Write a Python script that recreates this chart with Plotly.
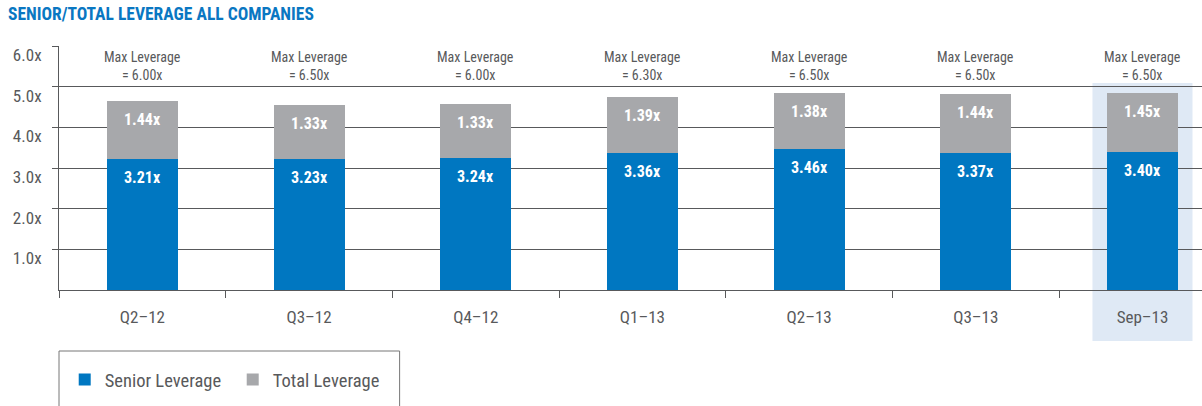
import plotly.graph_objects as go

# Data
periods = ["Q2–12", "Q3–12", "Q4–12", "Q1–13", "Q2–13", "Q3–13", "Sep–13"]
senior_leverage = [3.21, 3.23, 3.24, 3.36, 3.46, 3.37, 3.40]
total_leverage_add = [1.44, 1.33, 1.33, 1.39, 1.38, 1.44, 1.45]
max_leverage = [6.00, 6.50, 6.00, 6.30, 6.50, 6.50, 6.50]
y_ticks = [1, 2, 3, 4, 5, 6]

BLUE = "#0077c1"
GRAY = "#a7a8ab"
TEXT = "#58595b"
LINE = "#58595b"
FONT = "Liberation Sans Narrow, Roboto Condensed, Open Sans, sans-serif"

fig = go.Figure()

fig.add_trace(go.Bar(
    x=periods, y=senior_leverage, name="Senior Leverage",
    marker=dict(color=BLUE, line_width=0), width=0.426,
))
fig.add_trace(go.Bar(
    x=periods, y=total_leverage_add, name="Total Leverage",
    marker=dict(color=GRAY, line_width=0), width=0.426,
))

# value labels near the top of each segment
label_font = dict(family=FONT, size=16, color="white", weight="bold")
for p, s, t in zip(periods, senior_leverage, total_leverage_add):
    fig.add_annotation(x=p, y=s, text=f"{s:.2f}x", showarrow=False,
                       yanchor="top", yshift=-7, font=label_font)
    fig.add_annotation(x=p, y=s + t, text=f"{t:.2f}x", showarrow=False,
                       yanchor="top", yshift=-7, font=label_font)

# Max leverage notes above each bar
for p, m in zip(periods, max_leverage):
    fig.add_annotation(
        x=p, y=5.5, xref="x", yref="y",
        text=f"Max Leverage<br>= {m:.2f}x", showarrow=False,
        font=dict(family=FONT, size=14, color=TEXT),
        align="center", yanchor="middle",
    )

# Highlight for the latest period
fig.add_shape(
    type="rect", xref="x", yref="paper",
    x0=5.7, x1=6.3, y0=-0.209, y1=0.848,
    fillcolor="#dfe9f5", line_width=0, layer="below",
)

# Legend frame
fig.add_shape(
    type="rect", xref="paper", yref="paper",
    x0=0, x1=0.298, y0=-0.25, y1=-0.52,
    fillcolor="rgba(0,0,0,0)", line=dict(color="#777777", width=1),
)

fig.update_layout(
    width=1202, height=406,
    barmode="stack",
    plot_bgcolor="white", paper_bgcolor="white",
    margin=dict(l=59, r=0, t=46, b=116),
    font=dict(family=FONT, color=TEXT),
    title=dict(
        text="SENIOR/TOTAL LEVERAGE ALL COMPANIES",
        xref="container", yref="container", x=8 / 1202, y=1 - 14 / 406,
        xanchor="left", yanchor="middle",
        font=dict(family=FONT, size=17.5, color="#0a77c2", weight="bold"),
    ),
    legend=dict(
        orientation="h", traceorder="normal",
        x=0.005, y=-0.369, xanchor="left", yanchor="middle",
        font=dict(family=FONT, size=18.5, color=TEXT),
        bgcolor="rgba(0,0,0,0)",
        entrywidth=123, entrywidthmode="pixels",
    ),
    xaxis=dict(
        type="category", range=[-0.5, 6.357],
        showline=True, linecolor=LINE, linewidth=1,
        ticks="outside", tickson="boundaries", ticklen=7, tickcolor=LINE,
        showgrid=False, ticklabelstandoff=12,
        tickfont=dict(family=FONT, size=17, color=TEXT),
    ),
    yaxis=dict(
        range=[0, 6], tickvals=y_ticks,
        ticktext=[f"{v:.1f}x" for v in y_ticks],
        showgrid=True, gridcolor=LINE, gridwidth=1,
        showline=True, linecolor=LINE, linewidth=1,
        ticks="outside", ticklen=6, tickcolor=LINE,
        zeroline=False, ticklabelshift=9, ticklabelstandoff=7,
        tickfont=dict(family=FONT, size=17, color=TEXT),
    ),
)

fig.write_html("out.html", config={"displayModeBar": False},
               post_script="document.body.style.margin='0';")
